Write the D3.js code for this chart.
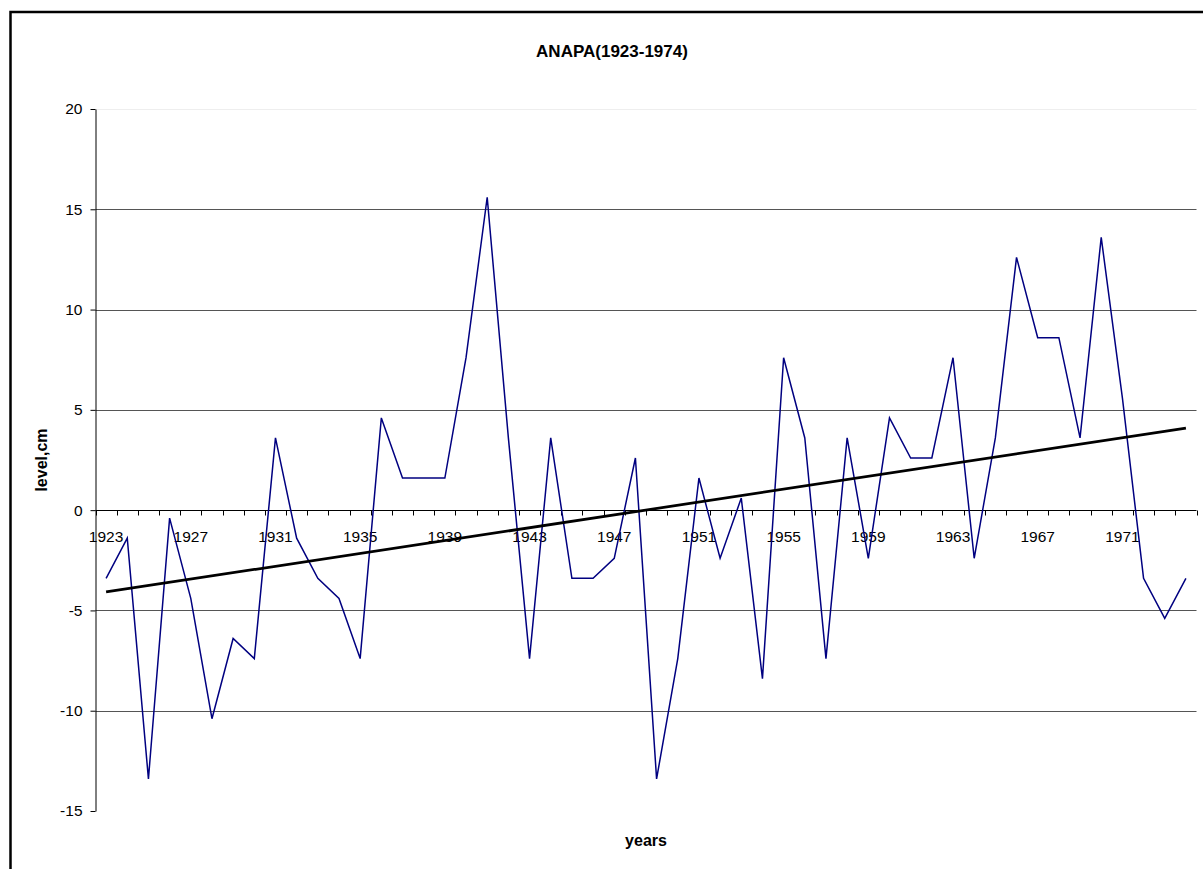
<!DOCTYPE html>
<html>
<head>
<meta charset="utf-8">
<script src="https://cdn.jsdelivr.net/npm/d3@7"></script>
<style>
  body { margin: 0; background: #fff; }
  svg { display: block; font-family: 'Liberation Sans', Arial, sans-serif; }
  .tick text { font-size: 15.5px; fill: #000; }
</style>
</head>
<body>
<svg id="chart" width="1203" height="869"></svg>
<script>
const years = d3.range(1923, 1975)
const levels = [
  -3.4, -1.4, -13.4, -0.4, -4.4, -10.4, -6.4, -7.4, 3.6, -1.4,
  -3.4, -4.4, -7.4, 4.6, 1.6, 1.6, 1.6, 7.6, 15.6, 3.6,
  -7.4, 3.6, -3.4, -3.4, -2.4, 2.6, -13.4, -7.4, 1.6, -2.4,
  0.6, -8.4, 7.6, 3.6, -7.4, 3.6, -2.4, 4.6, 2.6, 2.6,
  7.6, -2.4, 3.6, 12.6, 8.6, 8.6, 3.6, 13.6, 5.6, -3.4,
  -5.4, -3.4
]
const yTicks = [-15, -10, -5, 0, 5, 10, 15, 20]
const xLabels = [1923, 1927, 1931, 1935, 1939, 1943, 1947, 1951, 1955, 1959, 1963, 1967, 1971]

const plot = { left: 95.5, right: 1196.5, top: 109, bottom: 811 }

const svg = d3.select('#chart')

// outer chart border
svg.append('rect')
    .attr('x', 10.5)
    .attr('y', 12)
    .attr('width', 1220)
    .attr('height', 900)
    .attr('fill', '#fff')
    .attr('stroke', '#000')
    .attr('stroke-width', 2.5)

const x = d3.scaleBand().domain(years).range([plot.left, plot.right]).padding(0)
const y = d3.scaleLinear().domain([-15, 20]).range([plot.bottom, plot.top])
const cx = d => x(d) + x.bandwidth() / 2

// gridlines
svg.append('g')
  .selectAll('line')
  .data(yTicks.filter(v => v !== 0 && v !== -15))
  .enter().append('line')
    .attr('x1', plot.left)
    .attr('x2', plot.right)
    .attr('y1', d => Math.round(y(d)) + 0.5)
    .attr('y2', d => Math.round(y(d)) + 0.5)
    .attr('stroke', d => d === 20 ? '#eee' : '#555')
    .attr('stroke-width', 1)

// y axis (plain hyphen for negatives, like the original)
const yAxis = d3.axisLeft(y)
    .tickValues(yTicks)
    .tickFormat(d => String(d))
    .tickSize(5)
    .tickSizeOuter(0)
    .tickPadding(8)
svg.append('g')
    .attr('class', 'y axis')
    .attr('transform', `translate(${plot.left},0)`)
    .call(yAxis)
    .call(g => g.selectAll('line, path').attr('stroke', '#000'))

// x axis along zero
const zeroY = Math.round(y(0)) + 0.5
svg.append('line')
    .attr('x1', plot.left)
    .attr('x2', plot.right)
    .attr('y1', zeroY)
    .attr('y2', zeroY)
    .attr('stroke', '#000')

svg.append('g')
  .selectAll('line')
  .data(years.map(d => x(d)).concat([plot.right]))
  .enter().append('line')
    .attr('x1', d => Math.round(d) + 0.5)
    .attr('x2', d => Math.round(d) + 0.5)
    .attr('y1', zeroY)
    .attr('y2', zeroY + 5)
    .attr('stroke', '#000')

const xAxis = d3.axisBottom(x).tickValues(xLabels).tickSize(0).tickPadding(21)
svg.append('g')
    .attr('class', 'x axis')
    .attr('transform', `translate(0,${y(0)})`)
    .call(xAxis)
    .call(g => g.select('.domain').remove())

// data line
const line = d3.line()
    .x((d, i) => cx(years[i]))
    .y(d => y(d))

svg.append('path')
    .datum(levels)
    .attr('fill', 'none')
    .attr('stroke', '#000080')
    .attr('stroke-width', 1.5)
    .attr('d', line)

// linear trend (least squares)
const n = levels.length
const meanI = (n - 1) / 2
const meanV = d3.mean(levels)
const slope = d3.sum(levels, (v, i) => (i - meanI) * (v - meanV)) /
  d3.sum(levels, (v, i) => (i - meanI) * (i - meanI))
const trend = [0, n - 1].map(i => ({ i, v: meanV + slope * (i - meanI) }))

svg.append('path')
    .datum(trend)
    .attr('fill', 'none')
    .attr('stroke', '#000')
    .attr('stroke-width', 2.75)
    .attr('d', d3.line().x(d => cx(years[d.i])).y(d => y(d.v)))

// titles
svg.append('text')
    .attr('x', 612)
    .attr('y', 57)
    .attr('text-anchor', 'middle')
    .style('font-size', '17px')
    .style('font-weight', 'bold')
    .text('ANAPA(1923-1974)')

svg.append('text')
    .attr('x', (plot.left + plot.right) / 2)
    .attr('y', 846)
    .attr('text-anchor', 'middle')
    .style('font-size', '16px')
    .style('font-weight', 'bold')
    .text('years')

svg.append('text')
    .attr('transform', `translate(47,${(plot.top + plot.bottom) / 2}) rotate(-90)`)
    .attr('text-anchor', 'middle')
    .style('font-size', '16px')
    .style('font-weight', 'bold')
    .text('level,cm')
</script>
</body>
</html>
